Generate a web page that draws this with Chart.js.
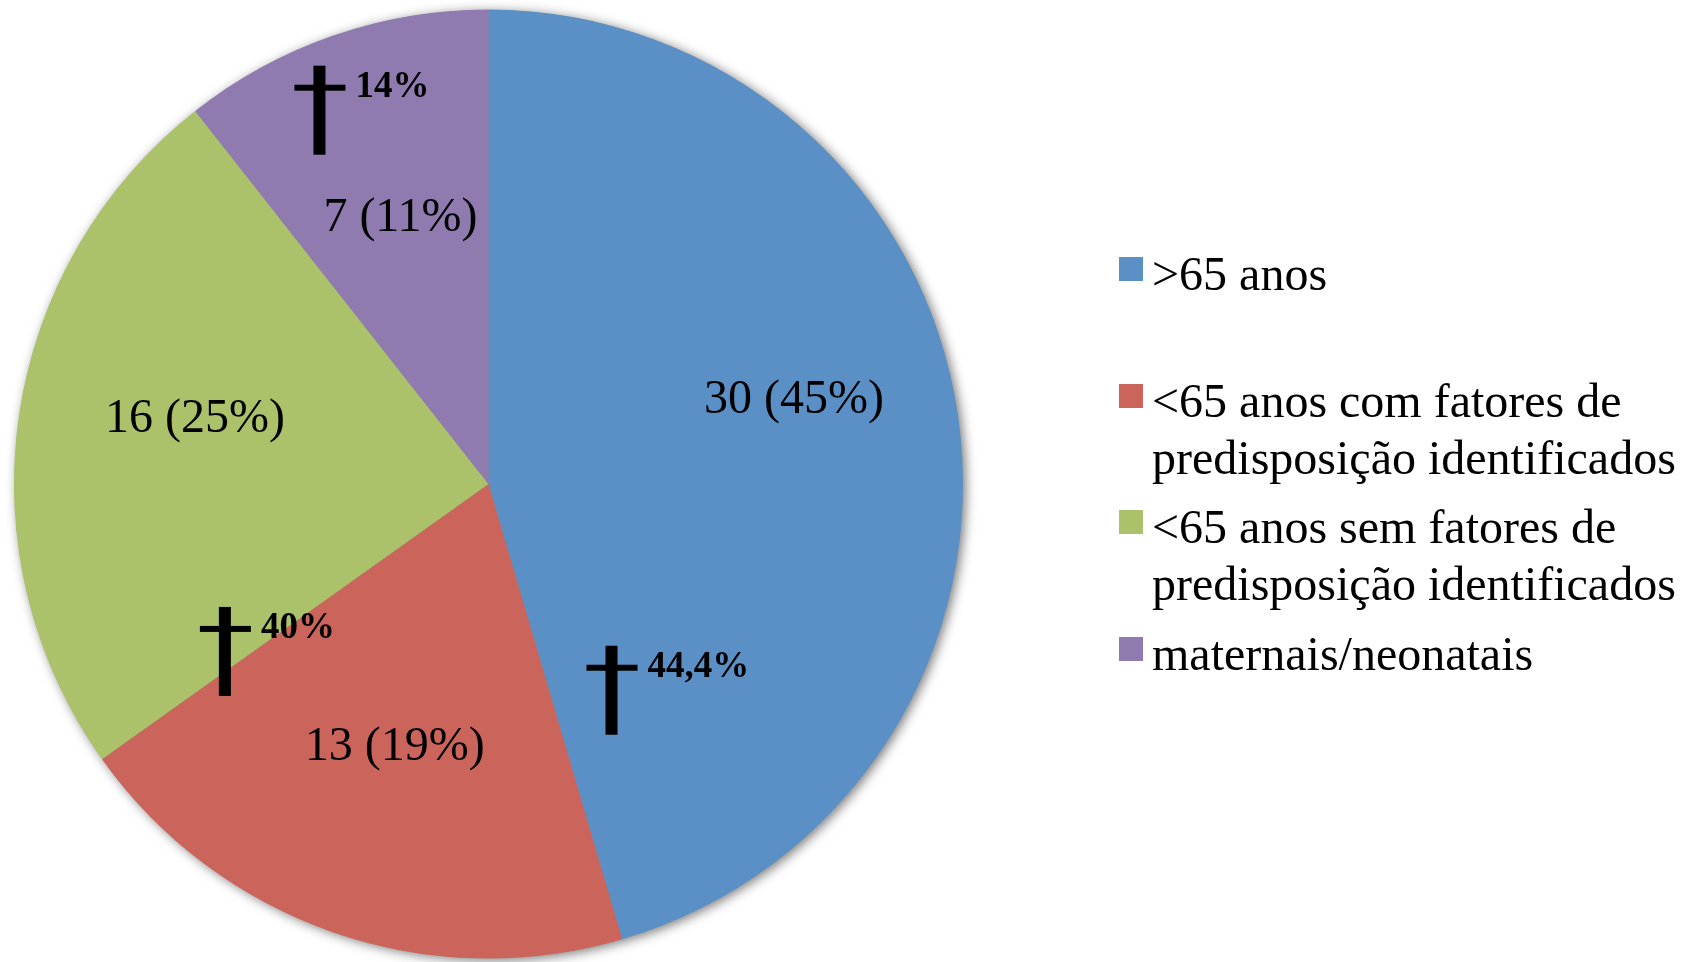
<!DOCTYPE html>
<html>
<head>
<meta charset="utf-8">
<script src="https://cdn.jsdelivr.net/npm/chart.js@4/dist/chart.umd.min.js"></script>
<style>
  html, body { margin: 0; padding: 0; background: #fff; }
  #wrap { width: 1692px; height: 962px; }
</style>
</head>
<body>
<div id="wrap"><canvas id="myChart"></canvas></div>
<script>
// data
const labels = [
    ['>65 anos'],
    ['<65 anos com fatores de', 'predisposição identificados'],
    ['<65 anos sem fatores de', 'predisposição identificados'],
    ['maternais/neonatais']
];
const counts = [30, 13, 16, 7];
const shares = ['45%', '19%', '25%', '11%'];
const deathRates = ['44,4%', null, '40%', '14%'];

const colors = ['rgb(91,144,198)', 'rgb(203,101,91)', 'rgb(171,194,107)', 'rgb(143,123,176)'];

// where texts sit inside the pie (angle in degrees, fraction of radius)
const labelPos = [
    { ang: -15.7, r: 0.669 },
    { ang: 109.7, r: 0.586 },
    { ang: 192.7, r: 0.634 },
    { ang: -108.2, r: 0.594 }
];
const crossPos = [
    { ang: 56.2, r: 0.466 },
    null,
    { ang: 151.2, r: 0.634 },
    { ang: -113.1, r: 0.908 }
];

const serif = '"Liberation Serif", "Times New Roman", serif';

function polar(arc, p) {
    const a = p.ang * Math.PI / 180;
    return { x: arc.x + Math.cos(a) * arc.outerRadius * p.r, y: arc.y + Math.sin(a) * arc.outerRadius * p.r };
}

const shadowPlugin = {
    id: 'shadow',
    beforeDatasetsDraw(chart) {
        const arc = chart.getDatasetMeta(0).data[0];
        if (!arc) return;
        const ctx = chart.ctx;
        ctx.save();
        ctx.shadowColor = 'rgba(0,0,0,0.55)';
        ctx.shadowBlur = 12;
        ctx.shadowOffsetX = 3;
        ctx.shadowOffsetY = 2;
        ctx.fillStyle = '#888';
        ctx.beginPath();
        ctx.arc(arc.x, arc.y, arc.outerRadius - 0.5, 0, Math.PI * 2);
        ctx.fill();
        ctx.restore();
    }
};

const textPlugin = {
    id: 'sliceText',
    afterDatasetsDraw(chart) {
        const ctx = chart.ctx;
        const meta = chart.getDatasetMeta(0);
        ctx.save();
        meta.data.forEach((arc, i) => {
            // count + share
            const p = polar(arc, labelPos[i]);
            ctx.font = '48px ' + serif;
            ctx.fillStyle = '#000';
            ctx.textAlign = 'center';
            ctx.textBaseline = 'middle';
            ctx.fillText(counts[i] + ' (' + shares[i] + ')', p.x, p.y + 2);

            // cross + mortality
            if (!deathRates[i]) return;
            const c = polar(arc, crossPos[i]);
            ctx.fillRect(c.x - 6, c.y - 22, 12, 89);
            ctx.fillRect(c.x - 25, c.y - 3, 51, 6);
            ctx.font = 'bold 37px ' + serif;
            ctx.textAlign = 'left';
            ctx.textBaseline = 'alphabetic';
            ctx.fillText(deathRates[i], c.x + 36, c.y + 9);
        });
        ctx.restore();
    }
};

const legendPlugin = {
    id: 'sideLegend',
    afterDraw(chart) {
        const ctx = chart.ctx;
        const baselines = [290, 417, 543, 670];
        ctx.save();
        ctx.font = '48px ' + serif;
        ctx.textAlign = 'left';
        ctx.textBaseline = 'alphabetic';
        chart.data.labels.forEach((lines, i) => {
            const y = baselines[i];
            ctx.fillStyle = colors[i];
            ctx.fillRect(1119, y - 33, 24, 24);
            ctx.fillStyle = '#000';
            lines.forEach((t, k) => ctx.fillText(t, 1152, y + k * 57));
        });
        ctx.restore();
    }
};

const data = {
    labels: labels,
    datasets: [{
        data: counts,
        backgroundColor: colors,
        borderWidth: 0,
    }]
};

const config = {
    type: 'pie',
    data: data,
    options: {
        responsive: true,
        maintainAspectRatio: false,
        animation: false,
        layout: {
            padding: { left: 14, top: 9, right: 729, bottom: 3 }
        },
        plugins: {
            legend: { display: false },
            tooltip: { enabled: false },
        }
    },
    plugins: [shadowPlugin, textPlugin, legendPlugin]
};

const myChart = new Chart(document.getElementById('myChart'), config);
</script>
</body>
</html>
